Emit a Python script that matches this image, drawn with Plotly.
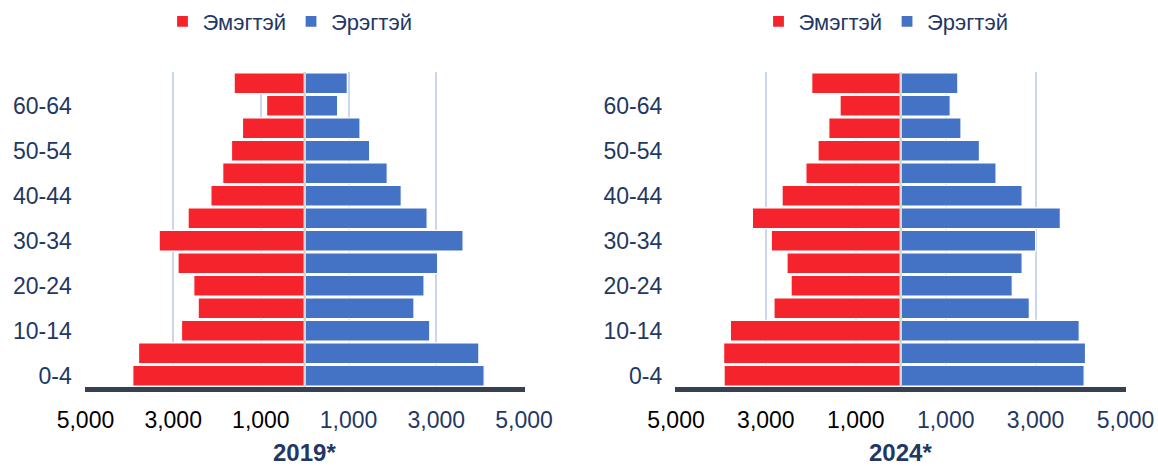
import plotly.graph_objects as go

# Age groups, youngest at the bottom
age_groups = ["0-4", "5-9", "10-14", "15-19", "20-24", "25-29", "30-34",
              "35-39", "40-44", "45-49", "50-54", "55-59", "60-64", "65+"]

# Population by sex, 2019*
female_2019 = [3920, 3790, 2810, 2430, 2530, 2890, 3320,
               2660, 2140, 1870, 1670, 1420, 870, 1610]
male_2019 = [4090, 3970, 2850, 2490, 2720, 3030, 3610,
             2790, 2200, 1880, 1480, 1260, 750, 970]

# Population by sex, 2024*
female_2024 = [3930, 3940, 3790, 2820, 2440, 2530, 2880,
               3300, 2640, 2110, 1840, 1600, 1350, 1980]
male_2024 = [4080, 4110, 3970, 2860, 2480, 2700, 3000,
             3550, 2700, 2120, 1750, 1340, 1100, 1270]

years = ["2019*", "2024*"]
female_label = "Эмэгтэй"
male_label = "Эрэгтэй"

tick_values = [-5000, -3000, -1000, 1000, 3000, 5000]

RED = "#F5232B"
BLUE = "#4472C4"
NAVY = "#1F3864"
GRID = "#C9D6EE"
AXIS_DARK = "#36404F"
FONT = "Liberation Sans, Arial, sans-serif"

tick_text = []
for v in tick_values:
    color = "#000000" if v < 0 else NAVY
    tick_text.append(f"<span style='color:{color}'>{abs(v):,}</span>")

fig = go.Figure()

panels = [
    (female_2019, male_2019, "x", "y", "legend"),
    (female_2024, male_2024, "x2", "y2", "legend2"),
]

for female, male, xa, ya, lg in panels:
    fig.add_trace(go.Bar(
        y=age_groups, x=[-v for v in female], orientation="h",
        name=female_label, marker=dict(color=RED, line=dict(color="white", width=1.2)),
        xaxis=xa, yaxis=ya, legend=lg,
        customdata=female, hovertemplate="%{y}: %{customdata:,}<extra>" + female_label + "</extra>",
    ))
    fig.add_trace(go.Bar(
        y=age_groups, x=male, orientation="h",
        name=male_label, marker=dict(color=BLUE, line=dict(color="white", width=1.2)),
        xaxis=xa, yaxis=ya, legend=lg,
        hovertemplate="%{y}: %{x:,}<extra>" + male_label + "</extra>",
    ))

# A hair of padding past +/-5000 keeps the outer grid lines inside the plot
x_range = [-5015, 5015]
x_domains = [[84.8 / 1158, 524.7 / 1158], [675.3 / 1158, 1126.2 / 1158]]
y_domain = [(466 - 387) / 466, (466 - 72) / 466]

common_x = dict(
    range=x_range, tickmode="array", tickvals=tick_values, ticktext=tick_text,
    showgrid=True, gridcolor=GRID, gridwidth=1.5, zeroline=False,
    showline=True, linecolor=AXIS_DARK, linewidth=5, mirror=False,
    ticks="", ticklabelstandoff=8, automargin=False,
    tickfont=dict(family=FONT, size=23, color=NAVY), fixedrange=True,
)
common_y = dict(
    type="category", categoryorder="array", categoryarray=age_groups,
    tickmode="array", tickvals=age_groups[::2], ticktext=age_groups[::2],
    showgrid=False, zeroline=False, showline=False,
    ticks="", ticklabelstandoff=12, automargin=False,
    tickfont=dict(family=FONT, size=23, color=NAVY), fixedrange=True,
)

legend_style = dict(orientation="h", xanchor="center", y=1 - 21.5 / 466, yanchor="middle",
                    font=dict(family=FONT, size=22, color=NAVY), itemwidth=30,
                    traceorder="normal", bgcolor="rgba(0,0,0,0)")

fig.update_layout(
    width=1158, height=466,
    margin=dict(l=0, r=0, t=0, b=0, autoexpand=False),
    paper_bgcolor="white", plot_bgcolor="white",
    barmode="relative", bargap=0.08,
    font=dict(family=FONT, color=NAVY),
    xaxis=dict(domain=x_domains[0], anchor="y", **common_x),
    yaxis=dict(domain=y_domain, anchor="x", **common_y),
    xaxis2=dict(domain=x_domains[1], anchor="y2", **common_x),
    yaxis2=dict(domain=y_domain, anchor="x2", **common_y),
    legend=dict(x=290 / 1158, **legend_style),
    legend2=dict(x=886 / 1158, **legend_style),
    showlegend=True,
)

# Thin grey divider along the zero line of each pyramid
for xr, yr in [("x", "y domain"), ("x2", "y2 domain")]:
    fig.add_shape(type="line", xref=xr, yref=yr, x0=0, x1=0, y0=0, y1=1,
                  line=dict(color="#D4D4D4", width=2.5), layer="above")

# Year captions under each pyramid
for i, year in enumerate(years):
    xc = (x_domains[i][0] + x_domains[i][1]) / 2
    fig.add_annotation(text=f"<b>{year}</b>", xref="paper", yref="paper",
                       x=xc, y=(466 - 452) / 466, xanchor="center", yanchor="middle",
                       showarrow=False, font=dict(family=FONT, size=24, color=NAVY))

fig.write_html("out.html")
